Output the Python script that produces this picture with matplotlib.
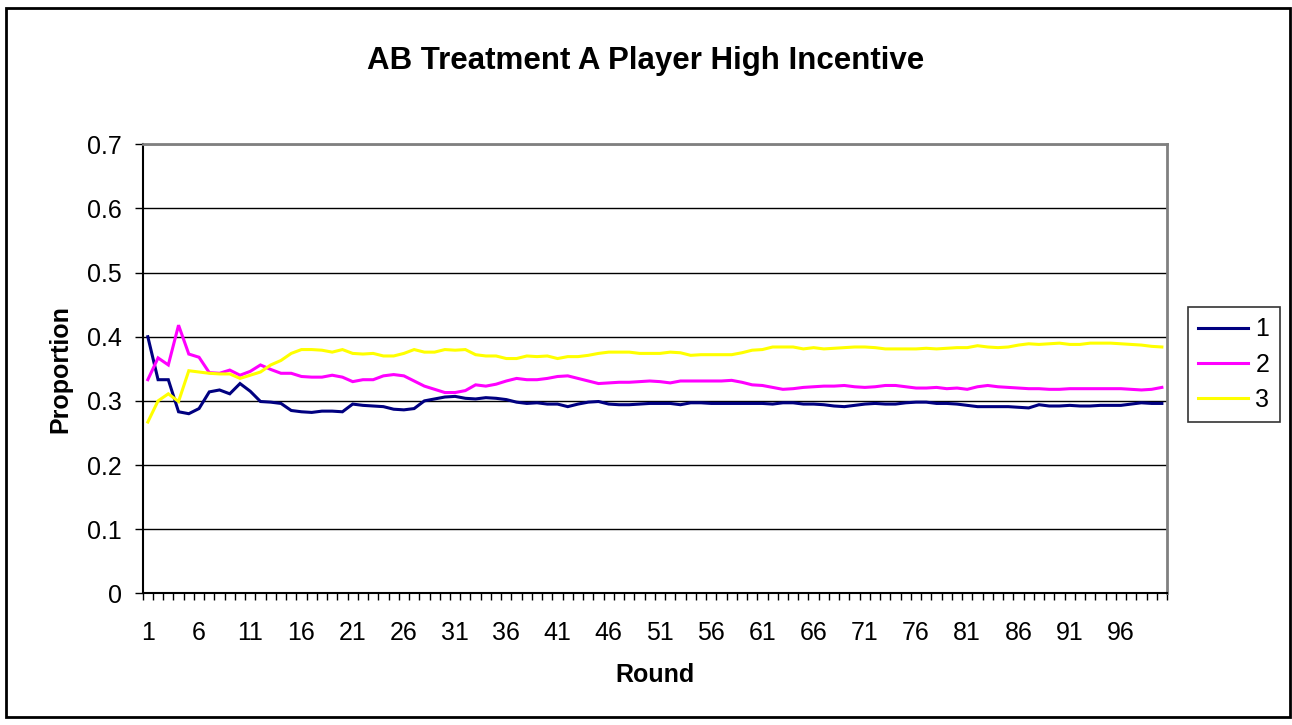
import matplotlib
matplotlib.use("Agg")
import matplotlib.pyplot as plt
from matplotlib.patches import Rectangle

plt.rcParams['font.family'] = ['Liberation Sans', 'DejaVu Sans']

# data, rounds 1..100
rounds = list(range(1, 101))
series_names = ['1', '2', '3']
series_colors = ['#000080', '#FF00FF', '#FFFF00']

s1 = [0.400, 0.333, 0.333, 0.283, 0.280, 0.288, 0.314, 0.317, 0.311, 0.327,
      0.315, 0.299, 0.298, 0.296, 0.285, 0.283, 0.282, 0.284, 0.284, 0.283,
      0.295, 0.293, 0.292, 0.291, 0.287, 0.286, 0.288, 0.300, 0.303, 0.306,
      0.307, 0.304, 0.303, 0.305, 0.304, 0.302, 0.298, 0.296, 0.297, 0.295,
      0.295, 0.291, 0.295, 0.298, 0.299, 0.295, 0.294, 0.294, 0.295, 0.296,
      0.296, 0.296, 0.294, 0.297, 0.297, 0.296, 0.296, 0.296, 0.296, 0.296,
      0.296, 0.295, 0.297, 0.297, 0.295, 0.295, 0.294, 0.292, 0.291, 0.293,
      0.295, 0.296, 0.295, 0.295, 0.297, 0.298, 0.298, 0.296, 0.296, 0.295,
      0.293, 0.291, 0.291, 0.291, 0.291, 0.290, 0.289, 0.294, 0.292, 0.292,
      0.293, 0.292, 0.292, 0.293, 0.293, 0.293, 0.295, 0.297, 0.296, 0.296]

s2 = [0.333, 0.367, 0.356, 0.418, 0.373, 0.368, 0.344, 0.343, 0.348, 0.340,
      0.346, 0.356, 0.349, 0.343, 0.343, 0.338, 0.337, 0.337, 0.340, 0.337,
      0.330, 0.333, 0.333, 0.339, 0.341, 0.339, 0.331, 0.323, 0.318, 0.313,
      0.313, 0.316, 0.325, 0.323, 0.326, 0.331, 0.335, 0.333, 0.333, 0.335,
      0.338, 0.339, 0.335, 0.331, 0.327, 0.328, 0.329, 0.329, 0.330, 0.331,
      0.330, 0.328, 0.331, 0.331, 0.331, 0.331, 0.331, 0.332, 0.329, 0.325,
      0.324, 0.321, 0.318, 0.319, 0.321, 0.322, 0.323, 0.323, 0.324, 0.322,
      0.321, 0.322, 0.324, 0.324, 0.322, 0.320, 0.320, 0.321, 0.319, 0.320,
      0.318, 0.322, 0.324, 0.322, 0.321, 0.320, 0.319, 0.319, 0.318, 0.318,
      0.319, 0.319, 0.319, 0.319, 0.319, 0.319, 0.318, 0.317, 0.318, 0.321]

s3 = [0.267, 0.300, 0.311, 0.299, 0.347, 0.345, 0.343, 0.342, 0.342, 0.335,
      0.340, 0.345, 0.356, 0.363, 0.374, 0.380, 0.380, 0.379, 0.376, 0.380,
      0.374, 0.373, 0.374, 0.370, 0.370, 0.374, 0.380, 0.376, 0.376, 0.380,
      0.379, 0.380, 0.372, 0.370, 0.370, 0.366, 0.366, 0.370, 0.369, 0.370,
      0.366, 0.369, 0.369, 0.371, 0.374, 0.376, 0.376, 0.376, 0.374, 0.374,
      0.374, 0.376, 0.375, 0.371, 0.372, 0.372, 0.372, 0.372, 0.375, 0.379,
      0.380, 0.384, 0.384, 0.384, 0.381, 0.383, 0.381, 0.382, 0.383, 0.384,
      0.384, 0.383, 0.381, 0.381, 0.381, 0.381, 0.382, 0.381, 0.382, 0.383,
      0.383, 0.386, 0.384, 0.383, 0.384, 0.387, 0.389, 0.388, 0.389, 0.390,
      0.388, 0.388, 0.390, 0.390, 0.390, 0.389, 0.388, 0.387, 0.385, 0.384]

x_labels = list(range(1, 101, 5))
y_ticks = [0, 0.1, 0.2, 0.3, 0.4, 0.5, 0.6, 0.7]

W, H = 1292, 725
fig = plt.figure(figsize=(W / 100, H / 100), dpi=100)
ax = fig.add_axes([142.7 / W, 1 - 593.3 / H, (1167 - 142.7) / W, (593.3 - 144.3) / H])

for vals, name, col in zip([s1, s2, s3], series_names, series_colors):
    ax.plot(rounds, vals, color=col, linewidth=2.2, label=name, solid_joinstyle='miter')

ax.set_xlim(0.5, 100.5)
ax.set_ylim(0, 0.7)

# y axis
ax.set_yticks(y_ticks)
ax.set_yticklabels(['0'] + [f'{v:.1f}' for v in y_ticks[1:]])
ax.yaxis.grid(True, color='black', linewidth=1.0)
ax.set_axisbelow(True)
ax.tick_params(axis='y', direction='out', length=6, width=1, pad=9, labelsize=18)

# x axis: labels every 5th round, tick marks between categories
ax.set_xticks(x_labels)
ax.set_xticklabels([str(v) for v in x_labels])
ax.set_xticks([i + 0.5 for i in range(0, 101)], minor=True)
ax.tick_params(axis='x', which='major', length=0, pad=20, labelsize=18)
ax.tick_params(axis='x', which='minor', direction='out', length=5, width=1)

for side in ['left', 'bottom']:
    ax.spines[side].set_color('black')
    ax.spines[side].set_linewidth(1.5)
for side in ['top', 'right']:
    ax.spines[side].set_color('#808080')
    ax.spines[side].set_linewidth(2)

fig.text(646 / W, 1 - 61 / H, 'AB Treatment A Player High Incentive',
         ha='center', va='center', fontsize=22.5, fontweight='bold')
fig.text(60 / W, 1 - 369 / H, 'Proportion', rotation=90,
         ha='center', va='center', fontsize=18, fontweight='bold')
fig.text(655 / W, 1 - 675 / H, 'Round',
         ha='center', va='center', fontsize=18, fontweight='bold')

leg = fig.legend(loc='center left', bbox_to_anchor=(1188 / W, 1 - 364.5 / H),
                 frameon=True, fancybox=False, fontsize=18, handlelength=2.0,
                 handletextpad=0.3, labelspacing=0.45, borderpad=0.4,
                 borderaxespad=0)
leg.get_frame().set_edgecolor('black')
leg.get_frame().set_linewidth(1.2)

# chart area border
fig.patches.append(Rectangle((6 / W, 1 - 717 / H), (1290 - 6) / W, (717 - 8) / H,
                             transform=fig.transFigure, fill=False,
                             edgecolor='black', linewidth=2))

fig.savefig('out.png', dpi=100)
